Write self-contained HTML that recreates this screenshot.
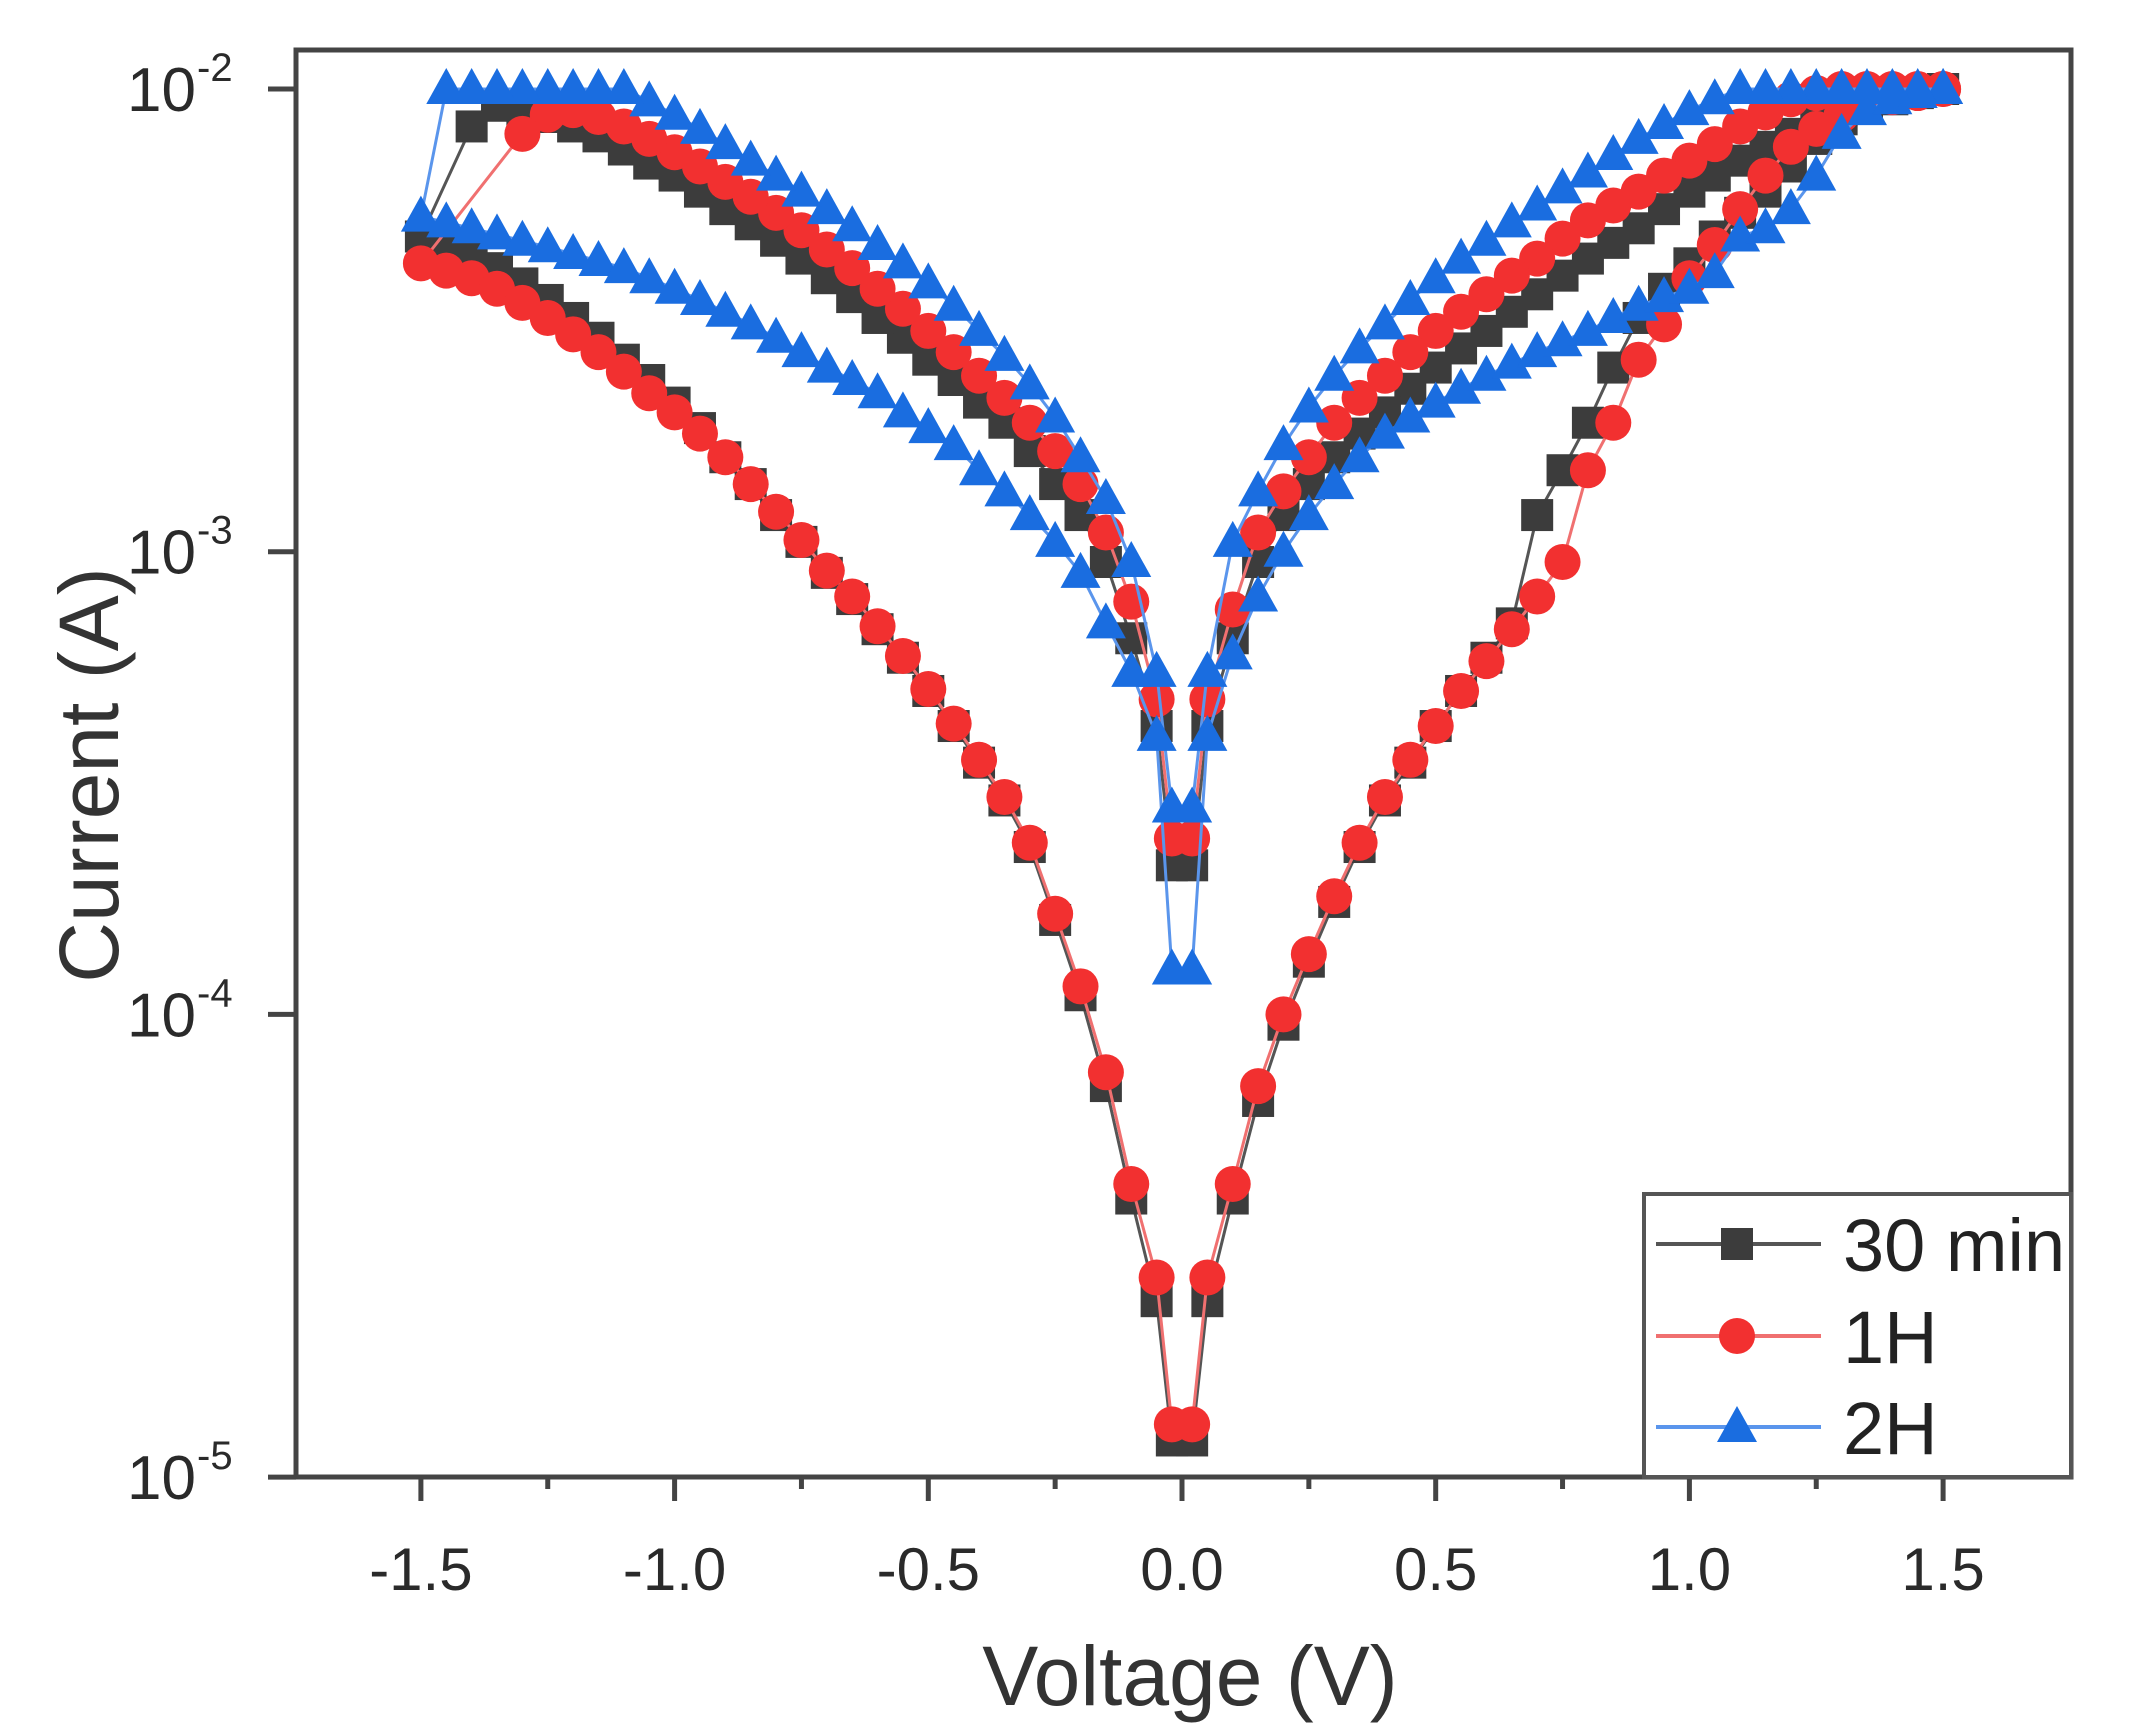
<!DOCTYPE html>
<html><head><meta charset="utf-8"><style>
html,body{margin:0;padding:0;background:#fff;}
svg{display:block;font-family:"Liberation Sans",Arial,sans-serif;}
</style></head><body>
<svg id="chart" width="2139" height="1724" viewBox="0 0 2139 1724" xmlns="http://www.w3.org/2000/svg">
<rect width="2139" height="1724" fill="#fff"/>
<g id="plot"></g>
<g id="axes"></g>
<text x="1190" y="1705" font-size="84" text-anchor="middle" fill="#333">Voltage (V)</text>
<text transform="translate(118,775) rotate(-90)" font-size="84" text-anchor="middle" fill="#333">Current (A)</text>
<g id="legend"></g>
</svg>
<script>
const grid = [0.02,0.05,0.10,0.15,0.20,0.25,0.30,0.35,0.40,0.45,0.50,0.55,0.60,0.65,0.70,0.75,0.80,0.85,0.90,0.95,1.00,1.05,1.10,1.15,1.20,1.25,1.30,1.35,1.40,1.45,1.50];
const seriesNames = ["30 min","1H","2H"];
// 30 min
const blackLowPos = [1.2e-5,2.4e-5,4e-5,6.5e-5,9.5e-5,1.3e-4,1.75e-4,2.3e-4,2.9e-4,3.5e-4,4.2e-4,5e-4,5.9e-4,7e-4,1.2e-3,1.5e-3,1.9e-3,2.5e-3,3.2e-3,3.7e-3,4.2e-3,4.8e-3,5.4e-3,6e-3,6.8e-3,7.8e-3,8.6e-3,9.2e-3,9.5e-3,9.8e-3,1e-2];
const blackUpPos = [2.1e-4,4.2e-4,6.5e-4,9.5e-4,1.2e-3,1.4e-3,1.6e-3,1.8e-3,2e-3,2.25e-3,2.5e-3,2.75e-3,3e-3,3.3e-3,3.6e-3,3.95e-3,4.3e-3,4.65e-3,5e-3,5.5e-3,6e-3,6.5e-3,7e-3,7.5e-3,8e-3,8.5e-3,9e-3,9.3e-3,9.6e-3,9.8e-3,1e-2];
const blackUpNeg = [2.1e-4,4.2e-4,6.5e-4,9.5e-4,1.2e-3,1.4e-3,1.65e-3,1.9e-3,2.1e-3,2.35e-3,2.6e-3,2.9e-3,3.2e-3,3.55e-3,3.9e-3,4.3e-3,4.7e-3,5.1e-3,5.5e-3,6e-3,6.5e-3,6.9e-3,7.4e-3,7.9e-3,8.3e-3,8.7e-3,9e-3,9.2e-3,8.3e-3];
const blackLowNeg = [1.2e-5,2.4e-5,4e-5,7e-5,1.1e-4,1.6e-4,2.3e-4,2.9e-4,3.5e-4,4.2e-4,5e-4,5.9e-4,6.8e-4,7.9e-4,9e-4,1.05e-3,1.2e-3,1.4e-3,1.6e-3,1.85e-3,2.1e-3,2.35e-3,2.6e-3,2.9e-3,3.2e-3,3.5e-3,3.8e-3,4.1e-3,4.4e-3,4.6e-3,4.8e-3];
// 1H
const redLowPos = [1.3e-5,2.7e-5,4.3e-5,7e-5,1e-4,1.35e-4,1.8e-4,2.35e-4,2.95e-4,3.55e-4,4.2e-4,5e-4,5.8e-4,6.8e-4,8e-4,9.5e-4,1.5e-3,1.9e-3,2.6e-3,3.1e-3,3.9e-3,4.6e-3,5.5e-3,6.5e-3,7.5e-3,8.2e-3,8.8e-3,9.3e-3,9.6e-3,9.8e-3,1e-2];
const redUpPos = [2.4e-4,4.8e-4,7.5e-4,1.1e-3,1.35e-3,1.6e-3,1.9e-3,2.15e-3,2.4e-3,2.7e-3,3e-3,3.3e-3,3.6e-3,3.95e-3,4.3e-3,4.75e-3,5.2e-3,5.6e-3,6e-3,6.5e-3,7e-3,7.6e-3,8.3e-3,8.9e-3,9.5e-3,9.8e-3,1e-2,1e-2,1e-2,1e-2,1e-2];
const redUpNeg = [2.4e-4,4.8e-4,7.8e-4,1.1e-3,1.4e-3,1.65e-3,1.9e-3,2.15e-3,2.4e-3,2.7e-3,3e-3,3.35e-3,3.7e-3,4.1e-3,4.5e-3,4.95e-3,5.4e-3,5.85e-3,6.3e-3,6.8e-3,7.3e-3,7.8e-3,8.3e-3,8.7e-3,9e-3,8.8e-3,8e-3];
const redLowNeg = [1.3e-5,2.7e-5,4.3e-5,7.5e-5,1.15e-4,1.65e-4,2.35e-4,2.95e-4,3.55e-4,4.25e-4,5.05e-4,5.95e-4,6.9e-4,8e-4,9.1e-4,1.06e-3,1.22e-3,1.4e-3,1.6e-3,1.8e-3,2e-3,2.2e-3,2.45e-3,2.7e-3,2.95e-3,3.2e-3,3.45e-3,3.7e-3,3.9e-3,4.05e-3,4.2e-3];
// 2H
const blueLowPos = [1.25e-4,4e-4,6e-4,8e-4,1e-3,1.2e-3,1.4e-3,1.6e-3,1.8e-3,1.95e-3,2.1e-3,2.25e-3,2.4e-3,2.55e-3,2.7e-3,2.85e-3,3e-3,3.2e-3,3.4e-3,3.55e-3,3.7e-3,4e-3,4.8e-3,5e-3,5.5e-3,6.5e-3,8e-3,9e-3,9.5e-3,9.8e-3,1e-2];
const blueUpPos = [2.8e-4,5.5e-4,1.05e-3,1.35e-3,1.7e-3,2.05e-3,2.4e-3,2.75e-3,3.1e-3,3.5e-3,3.9e-3,4.3e-3,4.7e-3,5.15e-3,5.6e-3,6.1e-3,6.6e-3,7.2e-3,7.8e-3,8.4e-3,9e-3,9.5e-3,1e-2,1e-2,1e-2,1e-2,1e-2,1e-2,1e-2,1e-2,1e-2];
const blueUpNeg = [2.8e-4,5.5e-4,9.5e-4,1.3e-3,1.6e-3,1.95e-3,2.3e-3,2.65e-3,3e-3,3.4e-3,3.8e-3,4.2e-3,4.6e-3,5.05e-3,5.5e-3,6e-3,6.5e-3,7e-3,7.6e-3,8.2e-3,8.8e-3,9.4e-3,1e-2,1e-2,1e-2,1e-2,1e-2,1e-2,1e-2,1e-2];
const blueLowNeg = [1.25e-4,4e-4,5.5e-4,7e-4,9e-4,1.05e-3,1.2e-3,1.35e-3,1.5e-3,1.7e-3,1.85e-3,2e-3,2.2e-3,2.35e-3,2.5e-3,2.7e-3,2.9e-3,3.1e-3,3.3e-3,3.5e-3,3.7e-3,3.9e-3,4.1e-3,4.25e-3,4.4e-3,4.55e-3,4.7e-3,4.85e-3,5e-3,5.15e-3,5.3e-3];
const xTicks = [-1.5,-1.0,-0.5,0.0,0.5,1.0,1.5];
const xTickLabels = ["-1.5","-1.0","-0.5","0.0","0.5","1.0","1.5"];
const yTickExps = [-2,-3,-4,-5];

const NS="http://www.w3.org/2000/svg";
const L=296,R=2071,T=50,B=1477;
const x0V=1182, pxPerV=507.4;
function xs(v){return x0V+v*pxPerV;}
const y1e2=89, pxPerDec=462.7;
function ys(i){return y1e2+(-2-Math.log10(i))*pxPerDec;}
function mk(tag,attrs,parent){const e=document.createElementNS(NS,tag);for(const k in attrs)e.setAttribute(k,attrs[k]);parent.appendChild(e);return e;}

const plot=document.getElementById('plot');
const defs=mk('defs',{},plot);
const cp=mk('clipPath',{id:'clip'},defs);
mk('rect',{x:L,y:T,width:R-L,height:B-T},cp);
const pg=mk('g',{'clip-path':'url(#clip)'},plot);

const series=[
 {lp:blackLowPos,up:blackUpPos,un:blackUpNeg,ln:blackLowNeg,fill:'#3c3c3c',line:'#555',shape:'square'},
 {lp:redLowPos,up:redUpPos,un:redUpNeg,ln:redLowNeg,fill:'#f23030',line:'#f07070',shape:'circle'},
 {lp:blueLowPos,up:blueUpPos,un:blueUpNeg,ln:blueLowNeg,fill:'#1a6de0',line:'#5a95ec',shape:'triangle'}
];
function marker(shape,cx,cy,fill,parent,s){
  s=s||1;let e;
  if(shape==='square') e=mk('rect',{x:cx-16*s,y:cy-16*s,width:32*s,height:32*s,fill:fill},parent);
  else if(shape==='circle') e=mk('circle',{cx:cx,cy:cy,r:18*s,fill:fill},parent);
  else e=mk('polygon',{points:`${cx},${cy-21*s} ${cx+20*s},${cy+15*s} ${cx-20*s},${cy+15*s}`,fill:fill},parent);
  return e;
}
series.forEach((s,si)=>{
  const pts=[];
  s.lp.forEach((c,k)=>pts.push([grid[k],c]));
  for(let k=s.up.length-1;k>=0;k--)pts.push([grid[k],s.up[k]]);
  s.un.forEach((c,k)=>pts.push([-grid[k],c]));
  for(let k=s.ln.length-1;k>=0;k--)pts.push([-grid[k],s.ln[k]]);
  const g=mk('g',{},pg);
  
  
  const line=mk('polyline',{points:pts.map(p=>xs(p[0]).toFixed(1)+','+ys(p[1]).toFixed(1)).join(' '),fill:'none',stroke:s.line,'stroke-width':3},g);
  
  
  pts.forEach(p=>{
    const m=marker(s.shape,xs(p[0]),ys(p[1]),s.fill,g);
    
    
  });
});

const ax=document.getElementById('axes');
mk('rect',{x:L,y:T,width:R-L,height:B-T,fill:'none',stroke:'#444','stroke-width':5},ax);
xTicks.forEach((v,i)=>{
  const x=xs(v);
  mk('line',{x1:x,y1:B,x2:x,y2:B+24,stroke:'#444','stroke-width':5},ax);
  const t=mk('text',{x:x,y:1590,'font-size':60,'text-anchor':'middle',fill:'#2a2a2a'},ax);
  t.textContent=xTickLabels[i];
  
  
  if(i<xTicks.length-1){const xm=xs(v+0.25);mk('line',{x1:xm,y1:B,x2:xm,y2:B+12,stroke:'#444','stroke-width':5},ax);}
});
yTickExps.forEach(e=>{
  const y=ys(Math.pow(10,e));
  mk('line',{x1:L-28,y1:y,x2:L,y2:y,stroke:'#444','stroke-width':5},ax);
  const t=mk('text',{x:196,y:y+22,'font-size':62,'text-anchor':'end',fill:'#2a2a2a'},ax);
  t.textContent='10';
  
  
  const sp=mk('text',{x:197,y:y-8,'font-size':40,fill:'#2a2a2a'},ax);
  sp.textContent=String(e);
  
  
});

const lg=document.getElementById('legend');
mk('rect',{x:1644,y:1194,width:R-1644,height:B-1194,fill:'#fff',stroke:'#555','stroke-width':4},lg);
const rowsY=[1244,1336,1427];
series.forEach((s,i)=>{
  const y=rowsY[i];
  const ent=mk('g',{},lg);
  
  
  mk('line',{x1:1656,y1:y,x2:1821,y2:y,stroke:s.line,'stroke-width':4},ent);
  marker(s.shape,1737,y,s.fill,ent);
  const t=mk('text',{x:1843,y:y+27,'font-size':74,fill:'#222'},ent);
  t.textContent=seriesNames[i];
});
</script>
</body></html>
